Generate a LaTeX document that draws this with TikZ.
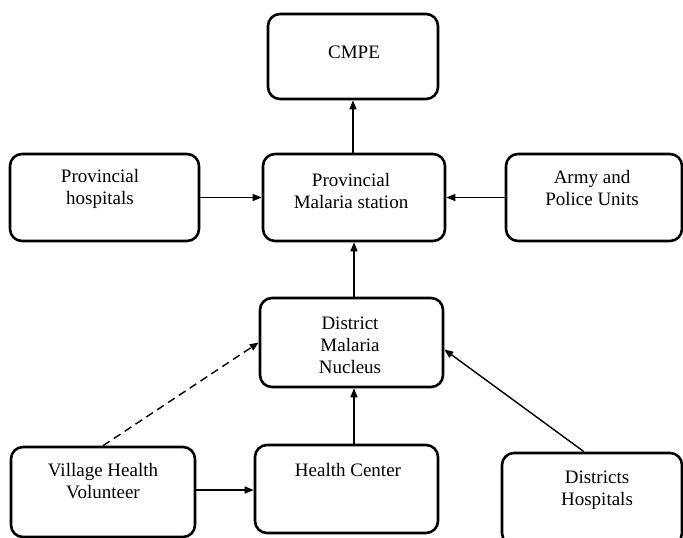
\documentclass[tikz,border=0pt]{standalone}
\usepackage{fontspec}
\setmainfont{Liberation Serif}
\usetikzlibrary{arrows.meta,calc}
\tikzset{
  box/.style={draw, line width=2.6pt, rounded corners=12pt, inner sep=0pt},
  lbl/.style={anchor=north, inner sep=0pt, align=center, font=\fontsize{19}{22}\selectfont},
  conn/.style={line width=1.4pt, -{Triangle[length=9pt,width=7pt]}},
}
\newcommand{\fs}{\rule{0pt}{14pt}}
\begin{document}
\begin{tikzpicture}[x=1pt,y=-1pt]
\useasboundingbox (0,0) rectangle (683,538);
% boxes
\node[box, minimum width=170pt, minimum height=85pt] (cmpe) at (353,56.5) {};
\node[box, minimum width=189pt, minimum height=87pt] (ph) at (104.5,197.5) {};
\node[box, minimum width=182pt, minimum height=87pt] (pms) at (354,197.5) {};
\node[box, minimum width=176pt, minimum height=87pt] (army) at (594,197.5) {};
\node[box, minimum width=183pt, minimum height=89pt] (dmn) at (351.5,342.5) {};
\node[box, minimum width=184pt, minimum height=90pt] (vhv) at (103,492) {};
\node[box, minimum width=183pt, minimum height=88pt] (hc) at (346.5,489) {};
\node[box, minimum width=180pt, minimum height=92pt] (dh) at (592,499) {};
% texts
\node[lbl] (cmpe-t) at (354,44) {\fs CMPE};
\node[lbl] (ph-t) at (100,168.5) {\fs Provincial\\hospitals};
\node[lbl] (pms-t) at (351,172) {\fs Provincial\\Malaria station};
\node[lbl] (army-t) at (592,169) {\fs Army and\\Police Units};
\node[lbl] (dmn-t) at (350,315) {\fs District\\Malaria\\Nucleus};
\node[lbl] (vhv-t) at (103,462) {\fs Village Health\\Volunteer};
\node[lbl] (hc-t) at (348,462) {\fs Health Center};
\node[lbl] (dh-t) at (597,469) {\fs Districts\\Hospitals};
% connectors
\draw[conn] (pms.north -| cmpe.south) -- (cmpe.south);
\draw[conn] (ph.east) -- (ph.east -| pms.west);
\draw[conn] (army.west) -- (army.west -| pms.east);
\draw[conn] (pms.south |- dmn.north) -- (pms.south);
\draw[conn] (pms.south |- hc.north) -- (pms.south |- dmn.south);
\draw[conn] (vhv.east) ++(0,-2) coordinate (vhvE) -- (vhvE -| hc.west);
\draw[conn, dashed, dash pattern=on 8pt off 5pt] (vhv.north) -- (dmn.west);
\draw[conn] ($(dh.north)+(-8,0)$) -- ($(dmn.east)+(0,7)$);
\end{tikzpicture}
\end{document}
